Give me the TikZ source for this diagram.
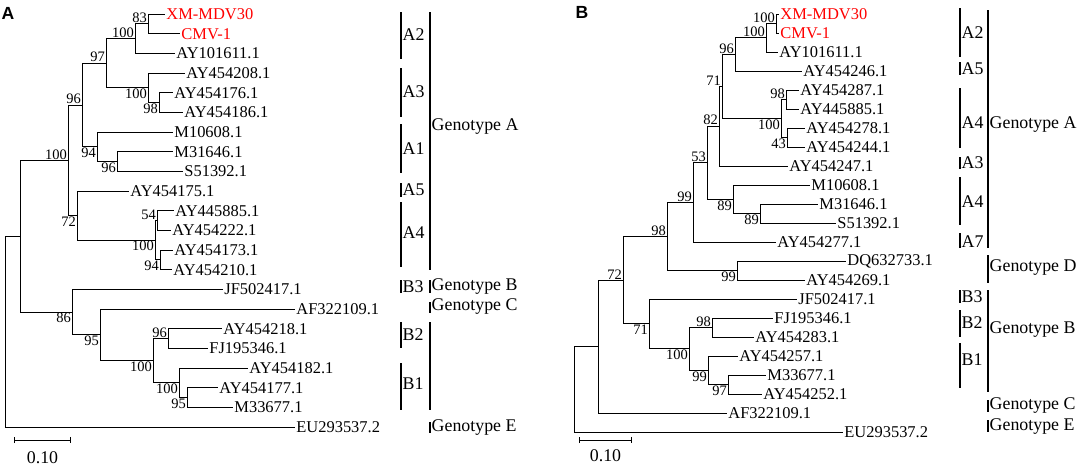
\documentclass[tikz,border=0pt]{standalone}
\usepackage{fontspec}
\setmainfont{Liberation Serif}
\newfontfamily\labfont{Liberation Sans}
\usetikzlibrary{arrows.meta}

\begin{document}
\begin{tikzpicture}[x=0.025cm, y=-0.025cm,
    tree/.style={line width=0.7pt},
    clade/.style={line width=1.1pt},
    leaf/.style={anchor=west, inner sep=0.8pt, font=\fontsize{11.7}{12}\selectfont},
    hit/.style={leaf, text=red},
    bs/.style={inner sep=0.6pt, font=\fontsize{10.3}{11}\selectfont},
    bsu/.style={bs, anchor=south east},
    bsd/.style={bs, anchor=north east},
    grp/.style={anchor=west, inner sep=1pt, font=\fontsize{12.7}{13}\selectfont},
    panel/.style={font=\labfont\bfseries\fontsize{12.5}{13}\selectfont}]
    \useasboundingbox (0,0) rectangle (1084,468);
    \node[panel] (pA) at (8,13) {A};
    \node[panel] (pB) at (582,12) {B};

    % tree A, leaves
    \path (165,14.0) node[hit](aXM){XM-MDV30}
        (180,33.7) node[hit](aCMV){CMV-1}
        (175,53.3) node[leaf](a01){AY101611.1}
        (185,73.0) node[leaf](a02){AY454208.1}
        (173,92.7) node[leaf](a03){AY454176.1}
        (183,112.3) node[leaf](a04){AY454186.1}
        (173,132.0) node[leaf](a05){M10608.1}
        (173,151.7) node[leaf](a06){M31646.1}
        (183,171.3) node[leaf](a07){S51392.1}
        (129,191.0) node[leaf](a08){AY454175.1}
        (174,210.7) node[leaf](a09){AY445885.1}
        (171,230.3) node[leaf](a10){AY454222.1}
        (173,250.0) node[leaf](a11){AY454173.1}
        (172,269.7) node[leaf](a12){AY454210.1}
        (223,289.3) node[leaf](a13){JF502417.1}
        (295,309.0) node[leaf](a14){AF322109.1}
        (222,328.7) node[leaf](a15){AY454218.1}
        (208,348.3) node[leaf](a16){FJ195346.1}
        (248,368.0) node[leaf](a17){AY454182.1}
        (218,387.7) node[leaf](a18){AY454177.1}
        (233,407.3) node[leaf](a19){M33677.1}
        (295,427.0) node[leaf](a20){EU293537.2};

    % tree B, leaves
    \path (779,14) node[hit](bXM){XM-MDV30}
        (779,33) node[hit](bCMV){CMV-1}
        (778,52) node[leaf](b01){AY101611.1}
        (802,71) node[leaf](b02){AY454246.1}
        (799,90) node[leaf](b03){AY454287.1}
        (799,109) node[leaf](b04){AY445885.1}
        (805,128) node[leaf](b05){AY454278.1}
        (805,147) node[leaf](b06){AY454244.1}
        (788,166) node[leaf](b07){AY454247.1}
        (810,185) node[leaf](b08){M10608.1}
        (818,204) node[leaf](b09){M31646.1}
        (836,223) node[leaf](b10){S51392.1}
        (776,242) node[leaf](b11){AY454277.1}
        (846,261) node[leaf](b12){DQ632733.1}
        (805,280) node[leaf](b13){AY454269.1}
        (797,299) node[leaf](b14){JF502417.1}
        (773,318) node[leaf](b15){FJ195346.1}
        (754,337) node[leaf](b16){AY454283.1}
        (738,356) node[leaf](b17){AY454257.1}
        (766,375) node[leaf](b18){M33677.1}
        (762,394) node[leaf](b19){AY454252.1}
        (727,413) node[leaf](b20){AF322109.1}
        (843,432) node[leaf](b21){EU293537.2};

    % inner nodes with bootstrap values
    \foreach \n/\x/\y/\v/\s in {
        na1/148/23.8/83/u, na2/135/38.6/100/u, na3/159/102.5/98/d,
        na4/148/87.8/100/d, na5/106/63.2/97/u, na6/117/161.5/96/d,
        na7/97/146.8/94/d, na8/82/105.0/96/u, na9/157/220.5/54/u,
        na10/160/259.9/94/d, na11/155/240.2/100/d, na12/77/215.6/72/d,
        na13/68/160.3/100/u, na14/168/338.5/96/u, na15/187/397.5/95/d,
        na16/179/382.8/100/d, na17/153/360.6/100/d, na18/100/334.8/95/d,
        na19/72/312.0/86/d,
        nb1/776/23.5/100/u, nb2/766/37.8/100/u, nb3/735/54.4/96/u,
        nb4/786/99.5/98/u, nb5/787/137.5/43/d, nb6/781/118.5/100/d,
        nb7/722/86.4/71/u, nb8/719/126.2/82/u, nb9/760/213.5/89/d,
        nb10/733/199.3/89/d, nb11/707/162.7/53/u, nb12/693/202.4/99/u,
        nb13/737/270.5/99/d, nb14/667/236.4/98/u, nb15/712/327.5/98/u,
        nb16/728/384.5/97/d, nb17/708/370.3/99/d, nb18/689/348.9/100/d,
        nb19/649/323.9/71/d, nb20/623/280.2/72/u}{
        \coordinate (\n) at (\x,\y);
        \node[bs\s] (v\n) at (\n) {\v};
    }
    \coordinate (na20) at (20,236.2);
    \coordinate (naR) at (5,331.6);
    \coordinate (nb21) at (598,346.6);
    \coordinate (nbR) at (574,389.3);

    % branches
    \foreach \p/\c in {na1/aXM, na1/aCMV, na2/na1, na2/a01, na3/a03, na3/a04,
        na4/a02, na4/na3, na5/na2, na5/na4, na6/a06, na6/a07, na7/a05, na7/na6,
        na8/na5, na8/na7, na9/a09, na9/a10, na10/a11, na10/a12, na11/na9,
        na11/na10, na12/a08, na12/na11, na13/na8, na13/na12, na14/a15, na14/a16,
        na15/a18, na15/a19, na16/a17, na16/na15, na17/na14, na17/na16,
        na18/a14, na18/na17, na19/a13, na19/na18, na20/na13, na20/na19,
        naR/na20, naR/a20,
        nb1/bXM, nb1/bCMV, nb2/nb1, nb2/b01, nb3/nb2, nb3/b02, nb4/b03, nb4/b04,
        nb5/b05, nb5/b06, nb6/nb4, nb6/nb5, nb7/nb3, nb7/nb6, nb8/nb7, nb8/b07,
        nb9/b09, nb9/b10, nb10/b08, nb10/nb9, nb11/nb8, nb11/nb10, nb12/nb11,
        nb12/b11, nb13/b12, nb13/b13, nb14/nb12, nb14/nb13, nb15/b15, nb15/b16,
        nb16/b18, nb16/b19, nb17/b17, nb17/nb16, nb18/nb15, nb18/nb17,
        nb19/b14, nb19/nb18, nb20/nb14, nb20/nb19, nb21/nb20, nb21/b20,
        nbR/nb21, nbR/b21}
        \draw[tree] (\p) |- (\c);

    % clade bars
    \foreach \xb/\ya/\yb/\yt/\t [count=\i] in {
        401/12/59/35/A2, 401/68/117/92/A3, 401/124/173/149/A1,
        401/183/197/190/A5, 401/202/267/233/A4, 401/280/293/287/B3,
        401/322/348/335/B2, 401/363/410/384/B1,
        430/12/270/127/Genotype A, 430/280/293/287/Genotype B,
        430/302/313/307/Genotype C, 430/322/410/366/{},
        430/422/433/428/Genotype E,
        960/8/57/33/A2, 960/62/75/69/A5, 960/88/148/123/A4,
        960/157/169/163/A3, 960/177/225/202/A4, 960/233/248/242/A7,
        988/10/248/125/Genotype A, 988/255/283/268/Genotype D,
        960/290/303/297/B3, 960/310/337/323/B2, 960/343/388/360/B1,
        988/290/392/330/Genotype B, 988/400/412/406/Genotype C,
        988/420/432/427/Genotype E}{
        \draw[clade] (\xb,\ya) -- (\xb,\yb);
        \node[grp] (g\i) at (\xb,\yt) {\t};
    }

    % scale bars
    \coordinate (sA0) at (14,440);
    \coordinate (sA1) at (71,440);
    \coordinate (sB0) at (579,440);
    \coordinate (sB1) at (632,440);
    \draw[tree, {Bar[width=4.5pt]}-{Bar[width=4.5pt]}] (sA0) -- (sA1);
    \draw[tree, {Bar[width=4.5pt]}-{Bar[width=4.5pt]}] (sB0) -- (sB1);
    \node[grp, anchor=center] (tA) at (42.5,458) {0.10};
    \node[grp, anchor=center] (tB) at (605.5,456) {0.10};
\end{tikzpicture}
\end{document}
